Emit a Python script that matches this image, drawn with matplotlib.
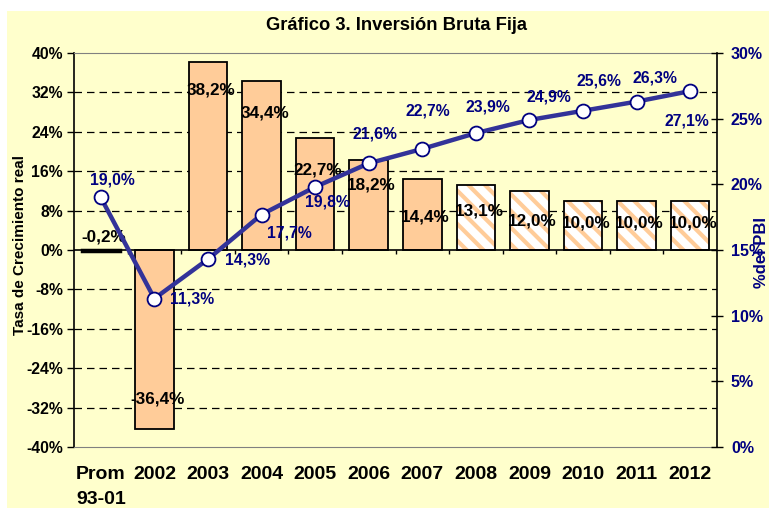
import matplotlib.pyplot as plt
import matplotlib.patches as mpatches
import numpy as np

# data
categorias = ['Prom\n93-01', '2002', '2003', '2004', '2005', '2006', '2007',
              '2008', '2009', '2010', '2011', '2012']
crecimiento = [-0.2, -36.4, 38.2, 34.4, 22.7, 18.2, 14.4, 13.1, 12.0, 10.0, 10.0, 10.0]
pct_pbi = [19.0, 11.3, 14.3, 17.7, 19.8, 21.6, 22.7, 23.9, 24.9, 25.6, 26.3, 27.1]
proyectado = [False] * 7 + [True] * 5

# label placement (pixels, screen y downwards)
bar_dy = [-14, -30, 28, 32, 32, 25, 38, 26, 30, 22, 22, 22]
line_off = [(12, -17, 'center'), (16, 0, 'left'), (17, 1, 'left'), (28, 18, 'center'),
            (12, 15, 'center'), (6, -29, 'center'), (6, -38, 'center'), (12, -26, 'center'),
            (19, -23, 'center'), (16, -30, 'center'), (18, -24, 'center'), (-3, 30, 'center')]

plt.rcParams['font.family'] = ['Liberation Sans', 'DejaVu Sans']
plt.rcParams['font.weight'] = 'bold'
plt.rcParams['hatch.linewidth'] = 3.0

W, H = 769, 508
fig = plt.figure(figsize=(W / 100, H / 100), dpi=100, facecolor='white')
fig.patches.append(mpatches.Rectangle((7 / W, 0), 1 - 7 / W, 1 - 11 / H, transform=fig.transFigure,
                                      facecolor='#FFFFCC', edgecolor='none', zorder=-10))

ax = fig.add_axes([74 / W, (H - 447) / H, (717 - 74) / W, (447 - 53) / H])
ax.set_facecolor('#FFFFCC')
x = np.arange(len(categorias))
ax.set_xlim(-0.5, len(categorias) - 0.5)
ax.set_ylim(-40, 40)

for i in x:
    if proyectado[i]:
        ax.bar(x[i], crecimiento[i], width=0.72, color='white', edgecolor='#FFCC99',
               hatch='\\\\', linewidth=0, zorder=2)
        ax.bar(x[i], crecimiento[i], width=0.72, fill=False, edgecolor='black',
               linewidth=1.3, zorder=3)
    else:
        ax.bar(x[i], crecimiento[i], width=0.72, color='#FFCC99', edgecolor='black',
               linewidth=1.3 if i > 0 else 2.5, zorder=3)
    ax.annotate(f"{crecimiento[i]:.1f}%".replace('.', ','), (x[i], crecimiento[i]),
                xytext=(3, -bar_dy[i]), textcoords='offset pixels', ha='center', va='center',
                fontsize=12.3, fontweight='bold', color='black', zorder=5)

yt = np.arange(-40, 41, 8)
ax.set_yticks(yt)
ax.set_yticklabels([f"{v}%" for v in yt], fontsize=11.3, fontweight='bold')
for v in yt[1:-1]:
    if v != 0:
        ax.axhline(v, color='black', lw=0.9, dashes=(6, 4), zorder=1)
ax.axhline(0, color='black', lw=1.2, zorder=4)
ax.vlines(np.arange(0.5, len(categorias) - 0.5), -0.8, 0, color='black', lw=1, zorder=4)

ax.set_xticks(x)
ax.set_xticklabels(categorias, fontsize=14, fontweight='bold', linespacing=1.6)
ax.tick_params(axis='x', length=0, pad=14)
ax.tick_params(axis='y', length=5, width=1, direction='out', pad=3)
ax.spines['top'].set_color('#808080')
ax.spines['bottom'].set_color('#808080')
ax.spines['right'].set_visible(False)
ax.spines['left'].set_linewidth(1.2)

ax2 = ax.twinx()
ax2.set_ylim(0, 30)
ax2.patch.set_visible(False)
ax2.plot(x, pct_pbi, color='#333399', lw=3.2, marker='o', markersize=10,
         markerfacecolor='white', markeredgecolor='#000080', markeredgewidth=1.3, zorder=5)
for i in x:
    dx, dy, ha = line_off[i]
    ax2.annotate(f"{pct_pbi[i]:.1f}%".replace('.', ','), (x[i], pct_pbi[i]),
                 xytext=(dx, -dy), textcoords='offset pixels', ha=ha, va='center',
                 fontsize=11.3, fontweight='bold', color='#000080', zorder=6)
rt = np.arange(0, 31, 5)
ax2.set_yticks(rt)
ax2.set_yticklabels([f"{v}%" for v in rt], fontsize=11.5, fontweight='bold', color='#000080')
ax2.tick_params(axis='y', length=8, width=1, direction='inout', pad=6)
for s in ['top', 'bottom', 'left']:
    ax2.spines[s].set_visible(False)
ax2.spines['right'].set_linewidth(1.2)

fig.text(20 / W, 1 - 245 / H, 'Tasa de Crecimiento real', rotation=90, ha='center', va='center',
         fontsize=11, fontweight='bold')
fig.text(761 / W, 1 - 252 / H, '%del PBI', rotation=90, ha='center', va='center',
         fontsize=12, fontweight='bold', color='#000080')
fig.text(396 / W, 1 - 26 / H, 'Gráfico 3. Inversión Bruta Fija', ha='center', va='center',
         fontsize=13.2, fontweight='bold')

fig.savefig('out.png', dpi=100, facecolor='white')
